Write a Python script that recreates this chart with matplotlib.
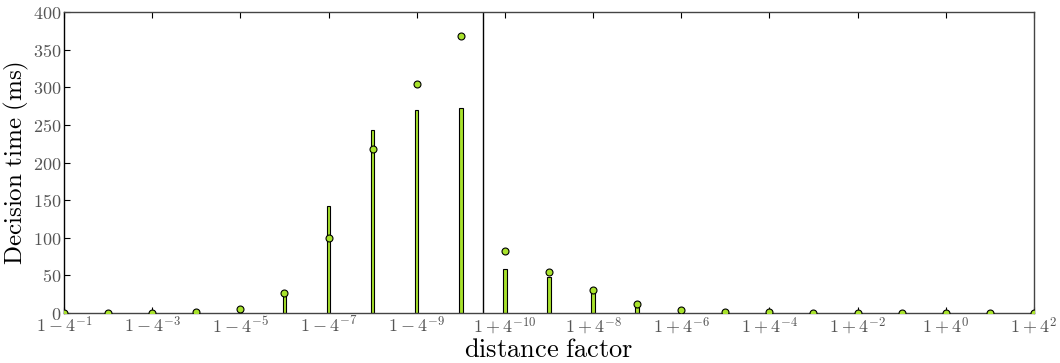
import matplotlib

matplotlib.use("Agg")
import matplotlib.pyplot as plt
import numpy as np

plt.rcParams["mathtext.fontset"] = "cm"
plt.rcParams["font.family"] = "serif"
plt.rcParams["font.serif"] = ["DejaVu Serif"]

# distance factors: 1 - 4^-1 ... 1 - 4^-10, then 1 + 4^-10 ... 1 + 4^2
exps_below = list(range(-1, -11, -1))
exps_above = list(range(-10, 3))

bar_values = [0.5, 0.5, 0.5, 0.8, 3, 24, 142, 243, 270, 273,
              59, 48, 28, 8, 2, 0.6, 0.5, 0.4, 0.3, 0.3, 0.3, 0.3, 0.3]
point_values = [0.3, 0.3, 0.5, 0.8, 5, 26, 100, 218, 305, 368,
                82, 55, 31, 12, 4, 1.5, 0.8, 0.5, 0.4, 0.3, 0.3, 0.2, 0.2]

labels = [r"$1-4^{%d}$" % e for e in exps_below] + \
         [r"$1+4^{%d}$" % e for e in exps_above]

GREEN = "#a8e22c"
GREY_TXT = "#555555"

x = np.arange(len(labels))

fig = plt.figure(figsize=(10.6, 3.63), dpi=100)
ax = fig.add_axes([0.0604, 0.1377, 0.915, 0.829])

ax.bar(x, bar_values, width=0.08, color=GREEN, edgecolor="black",
       linewidth=0.8, zorder=2)
ax.plot(x, point_values, linestyle="none", marker="o", markersize=5,
        markerfacecolor=GREEN, markeredgecolor="black", markeredgewidth=0.8,
        zorder=3)

# the value 1 itself sits between the two halves
ax.axvline(9.5, color="black", lw=1.0, zorder=1)

ax.set_xlim(0, len(labels) - 1)
ax.set_ylim(0, 400)
ax.set_xticks(x[::2])
ax.set_xticklabels(labels[::2])
ax.set_xticks(x[1::2], minor=True)
ax.set_yticks(np.arange(0, 401, 50))
ax.set_yticklabels([r"$\mathrm{%d}$" % v for v in range(0, 401, 50)])

ax.tick_params(axis="both", which="major", direction="in", length=4,
               labelsize=13, labelcolor=GREY_TXT, top=True, right=False,
               pad=2)
ax.tick_params(axis="x", which="minor", length=0)

for s in ax.spines.values():
    s.set_color("#444444")
    s.set_linewidth(1.0)
ax.spines["left"].set_color("black")

ax.set_xlabel(r"$\mathrm{distance\ factor}$", fontsize=19, labelpad=0)
ax.set_ylabel(r"$\mathrm{Decision\ time\ (ms)}$", fontsize=18, labelpad=1)

fig.savefig("out.png", dpi=100, facecolor="white")
plt.close(fig)
